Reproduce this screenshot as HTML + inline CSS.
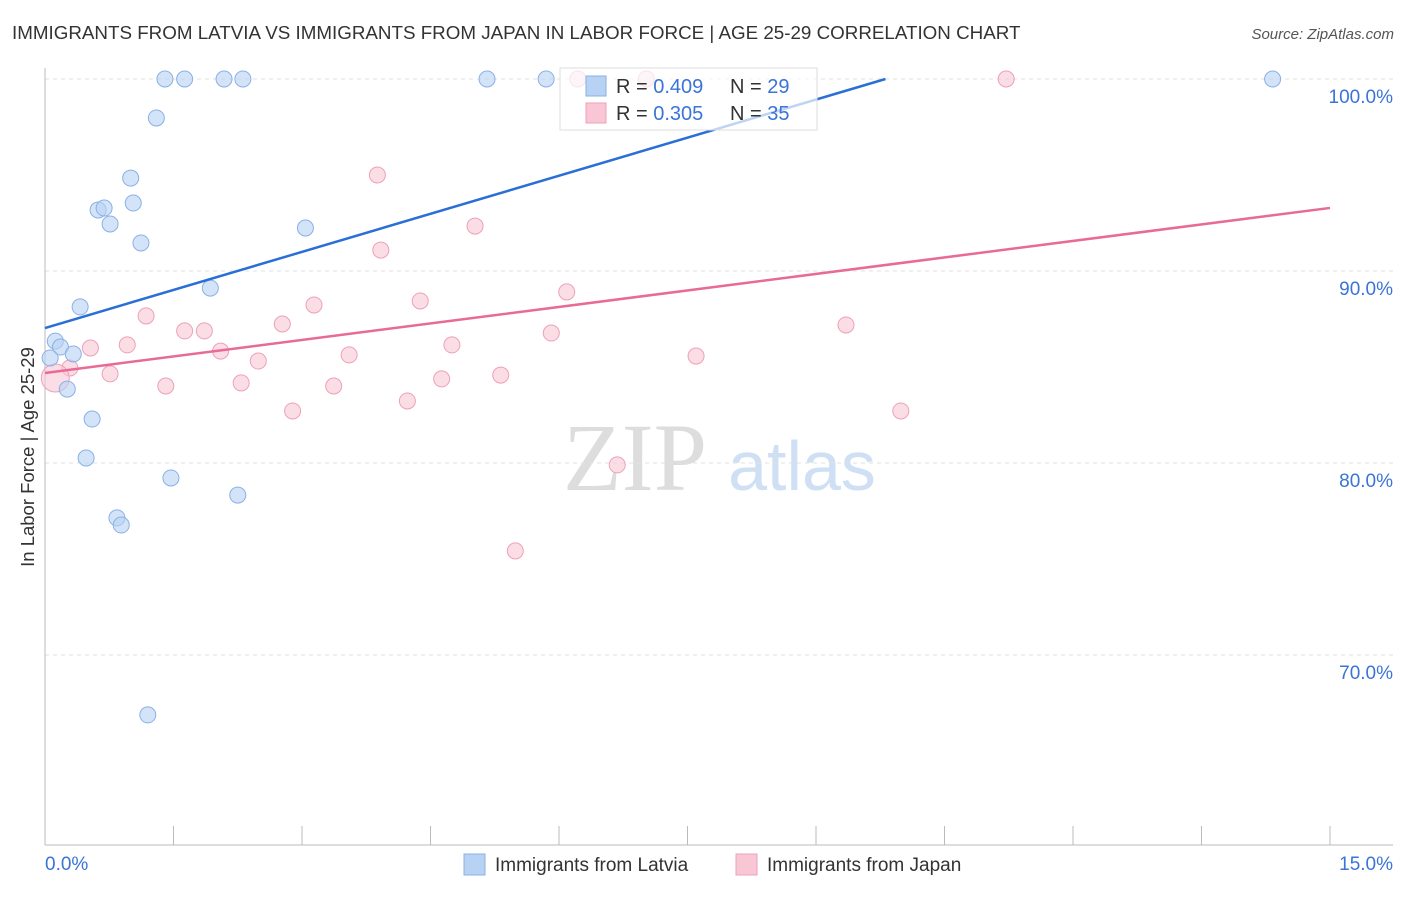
<!DOCTYPE html>
<html><head><meta charset="utf-8"><style>
body{margin:0;background:#fff;width:1406px;height:892px;overflow:hidden;font-family:"Liberation Sans",sans-serif}
</style></head><body>
<svg id="c" width="1406" height="892" xmlns="http://www.w3.org/2000/svg">
<text x="12" y="39" font-size="18.8" fill="#333">IMMIGRANTS FROM LATVIA VS IMMIGRANTS FROM JAPAN IN LABOR FORCE | AGE 25-29 CORRELATION CHART</text>
<text x="1394" y="39" font-size="15" fill="#555" text-anchor="end" font-style="italic">Source: ZipAtlas.com</text>
<text transform="translate(34,457) rotate(-90)" font-size="18.5" fill="#333" text-anchor="middle">In Labor Force | Age 25-29</text>
<g><text x="635" y="490" font-size="96" fill="#ddd" font-family="Liberation Serif,serif" text-anchor="middle">ZIP</text><text x="802" y="490" font-size="70" fill="#cfe0f4" text-anchor="middle">atlas</text></g>
<g id="grid"></g><g id="pts"></g><g id="lines"></g>
<g>
<rect x="560" y="68" width="257" height="62" fill="#fff" fill-opacity="0.7" stroke="#ddd"/>
<rect x="586" y="76" width="20" height="20" fill="#b8d2f4" stroke="#8ab0e6"/>
<rect x="586" y="103" width="20" height="20" fill="#f9c6d6" stroke="#eea0b8"/>
<text x="616" y="93" font-size="20" fill="#333">R = <tspan fill="#3a74d6">0.409</tspan></text>
<text x="730" y="93" font-size="20" fill="#333">N = <tspan fill="#3a74d6">29</tspan></text>
<text x="616" y="120" font-size="20" fill="#333">R = <tspan fill="#3a74d6">0.305</tspan></text>
<text x="730" y="120" font-size="20" fill="#333">N = <tspan fill="#3a74d6">35</tspan></text>
</g>
<g>
<rect x="464" y="854" width="21" height="21" fill="#b8d2f4" stroke="#8ab0e6"/>
<text x="495" y="871" font-size="19" fill="#333">Immigrants from Latvia</text>
<rect x="736" y="854" width="21" height="21" fill="#f9c6d6" stroke="#eea0b8"/>
<text x="767" y="871" font-size="19" fill="#333">Immigrants from Japan</text>
</g>
</svg>
<script>
const yTicks=[100,90,80,70];
const xTickLabels=["0.0%","15.0%"];
const latviaX=[1.40,1.63,2.09,2.31,5.16,5.85,14.33,1.30,1.00,0.62,0.69,1.03,0.76,1.12,3.04,1.93,0.41,0.12,0.18,0.33,0.26,0.55,0.48,1.47,2.25,0.84,0.89,1.20,0.06];
const latviaY=[100,100,100,100,100,100,100,97.97,94.84,93.18,93.28,93.54,92.45,91.46,92.24,89.11,88.13,86.35,86.04,85.68,83.85,82.29,80.26,79.22,78.33,77.14,76.77,66.88,85.47];
const japanX=[6.22,7.02,11.22,3.88,5.02,3.92,6.09,4.38,3.14,1.18,2.77,1.63,1.86,5.91,9.35,0.53,0.96,4.75,2.05,3.55,2.49,7.60,0.29,0.76,4.63,5.32,1.41,2.29,3.37,4.23,2.89,9.99,6.68,5.49,0.12];
const japanY=[100,100,100,95.0,92.34,91.09,88.91,88.44,88.23,87.66,87.24,86.88,86.88,86.77,87.19,85.99,86.15,86.15,85.83,85.63,85.31,85.57,84.95,84.64,84.38,84.58,84.01,84.17,84.01,83.23,82.71,82.71,79.90,75.42,84.43];
const latviaTrend=[87.03,1.322];
const japanTrend=[84.69,0.573];
const NS="http://www.w3.org/2000/svg";
const X=v=>45+v*1285/15, Y=v=>79+(100-v)*19.2;
function mk(t,a,p){const e=document.createElementNS(NS,t);for(const k in a)e.setAttribute(k,a[k]);p.appendChild(e);return e;}
const g=document.getElementById('grid');
yTicks.forEach(t=>{const l=mk('line',{x1:45,x2:1393,y1:Y(t),y2:Y(t),stroke:'#e2e2e2','stroke-dasharray':'4,4'},g);


const tx=mk('text',{x:1393,y:Y(t)+24,'font-size':19,fill:'#3a74d6','text-anchor':'end'},g);tx.textContent=t.toFixed(1)+'%';

});
mk('line',{x1:45,x2:45,y1:68,y2:845,stroke:'#bbb'},g);
mk('line',{x1:45,x2:1393,y1:845,y2:845,stroke:'#bbb'},g);
for(let i=0;i<=10;i++){mk('line',{x1:X(i*1.5),x2:X(i*1.5),y1:826,y2:845,stroke:'#bbb'},g);}
[[0,'start',45],[1,'end',1393]].forEach(([i,a,x])=>{const t=mk('text',{x:x,y:870,'font-size':19,fill:'#3a74d6','text-anchor':a},g);t.textContent=xTickLabels[i];

});
const p=document.getElementById('pts');
japanX.forEach((v,i)=>{const c=mk('circle',{cx:X(v),cy:Y(japanY[i]),r:i==34?14:8,fill:'#f9c6d6','fill-opacity':0.6,stroke:'#eea0b8'},p);

});
latviaX.forEach((v,i)=>{const c=mk('circle',{cx:X(v),cy:Y(latviaY[i]),r:8,fill:'#b8d2f4','fill-opacity':0.6,stroke:'#8ab0e6'},p);

});
const L=document.getElementById('lines');
const xe=(100-latviaTrend[0])/latviaTrend[1];
const b=mk('line',{x1:X(0),y1:Y(latviaTrend[0]),x2:X(xe),y2:Y(100),stroke:'#2a6fd6','stroke-width':2.5},L);


const pk=mk('line',{x1:X(0),y1:Y(japanTrend[0]),x2:X(15),y2:Y(japanTrend[0]+15*japanTrend[1]),stroke:'#e86a96','stroke-width':2.5},L);


</script>
</body></html>
